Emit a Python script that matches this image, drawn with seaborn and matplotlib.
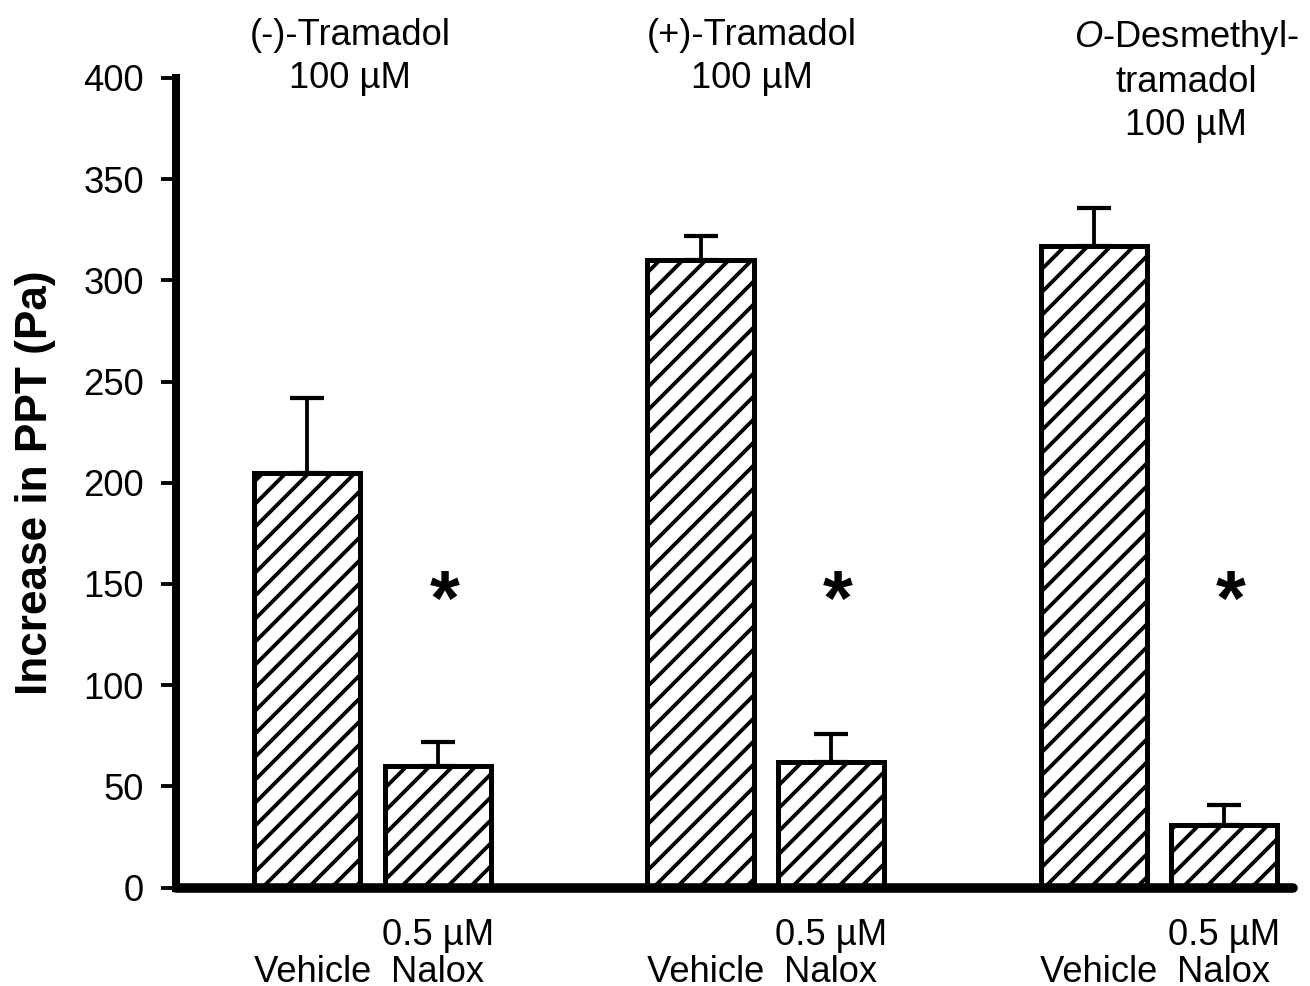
import matplotlib
matplotlib.use("Agg")
import matplotlib.pyplot as plt
import matplotlib.transforms as mtransforms
import numpy as np
import pandas as pd
import seaborn as sns

# ------------------------------------------------------------------
# data
# ------------------------------------------------------------------
groups = ["(-)-Tramadol", "(+)-Tramadol", "O-Desmethyltramadol"]
treatments = ["Vehicle", "Nalox"]
vehicle_mean = [205, 310, 317]
vehicle_sem = [37, 12, 19]
nalox_mean = [60, 62, 31]
nalox_sem = [12, 14, 10]
significant = [True, True, True]
star_level = 140

group_titles = [
    "(-)-Tramadol\n100 µM",
    "(+)-Tramadol\n100 µM",
    "$\\mathit{O}$-Desmethyl-\ntramadol\n100 µM",
]
tick_labels = {"Vehicle": "\n Vehicle", "Nalox": "0.5 µM\nNalox"}
y_ticks = [0, 50, 100, 150, 200, 250, 300, 350, 400]

df = pd.DataFrame({
    "group": groups * 2,
    "treatment": ["Vehicle"] * 3 + ["Nalox"] * 3,
    "value": vehicle_mean + nalox_mean,
    "sem": vehicle_sem + nalox_sem,
})

# ------------------------------------------------------------------
# style
# ------------------------------------------------------------------
sns.set_style("white")
plt.rcParams["font.family"] = ["Liberation Sans", "DejaVu Sans"]
plt.rcParams["mathtext.fontset"] = "custom"
plt.rcParams["mathtext.rm"] = "Liberation Sans"
plt.rcParams["mathtext.it"] = "Liberation Sans:italic"
plt.rcParams["hatch.linewidth"] = 2.0
plt.rcParams["hatch.color"] = "black"
for key in ["text.color", "axes.labelcolor", "xtick.color", "ytick.color", "axes.edgecolor"]:
    plt.rcParams[key] = "black"

DPI = 138
fig = plt.figure(figsize=(1310 / DPI, 986 / DPI), dpi=DPI)
ax = fig.add_axes([176 / 1310, 1 - 887.5 / 986, (1293 - 176) / 1310, (887.5 - 78) / 986])

sns.barplot(
    data=df, x="group", y="value", hue="treatment", hue_order=treatments,
    order=groups, palette=["white", "white"], edgecolor="black", linewidth=2.6,
    hatch="//", width=0.662, gap=0.185, errorbar=None, legend=False, ax=ax,
)

# error bars (upper only) + asterisks, placed on the bars seaborn drew
centers = []
for cont, trt in zip(ax.containers, treatments):
    sub = df[df["treatment"] == trt].set_index("group").loc[groups]
    xs = np.array([b.get_x() + b.get_width() / 2 for b in cont])
    centers.append(xs)
    ax.errorbar(
        xs, sub["value"], yerr=[np.zeros(len(xs)), sub["sem"]], fmt="none",
        ecolor="black", elinewidth=2.0, capsize=9, capthick=2.2, zorder=3,
    )

for x, sig in zip(centers[1], significant):
    if sig:
        ax.text(x + 0.018, star_level, "*", fontsize=40, fontweight="bold",
                ha="center", va="center")

# group titles above the plot
trans = mtransforms.blended_transform_factory(ax.transData, fig.transFigure)
title_shift = [-0.057, -0.034, 0.07]
for i, (title, dx) in enumerate(zip(group_titles, title_shift)):
    ax.text(i + dx, 1 - 18 / 986, title, transform=trans, fontsize=19,
            ha="center", va="top", multialignment="center", linespacing=1.3)

# axes
ax.set_xlim(-0.5, 2.342)
ax.set_ylim(0, 400)
ax.set_yticks(y_ticks)
all_x = np.concatenate(centers)
all_lab = [tick_labels["Vehicle"]] * 3 + [tick_labels["Nalox"]] * 3
ax.set_xticks(all_x)
ax.set_xticklabels(all_lab, fontsize=19, linespacing=1.05)
ax.set_xlabel("")
ax.set_ylabel("Increase in PPT (Pa)", fontsize=23, fontweight="bold", labelpad=14)

ax.tick_params(axis="x", length=0, pad=16)
ax.tick_params(axis="y", length=7.8, width=2, pad=9, labelsize=19, direction="out",
               left=True)
sns.despine(ax=ax)
ax.spines["left"].set_linewidth(4.2)
ax.spines["bottom"].set_linewidth(5)
ax.spines["bottom"].set_capstyle("round")

fig.savefig("out.png", dpi=DPI)
